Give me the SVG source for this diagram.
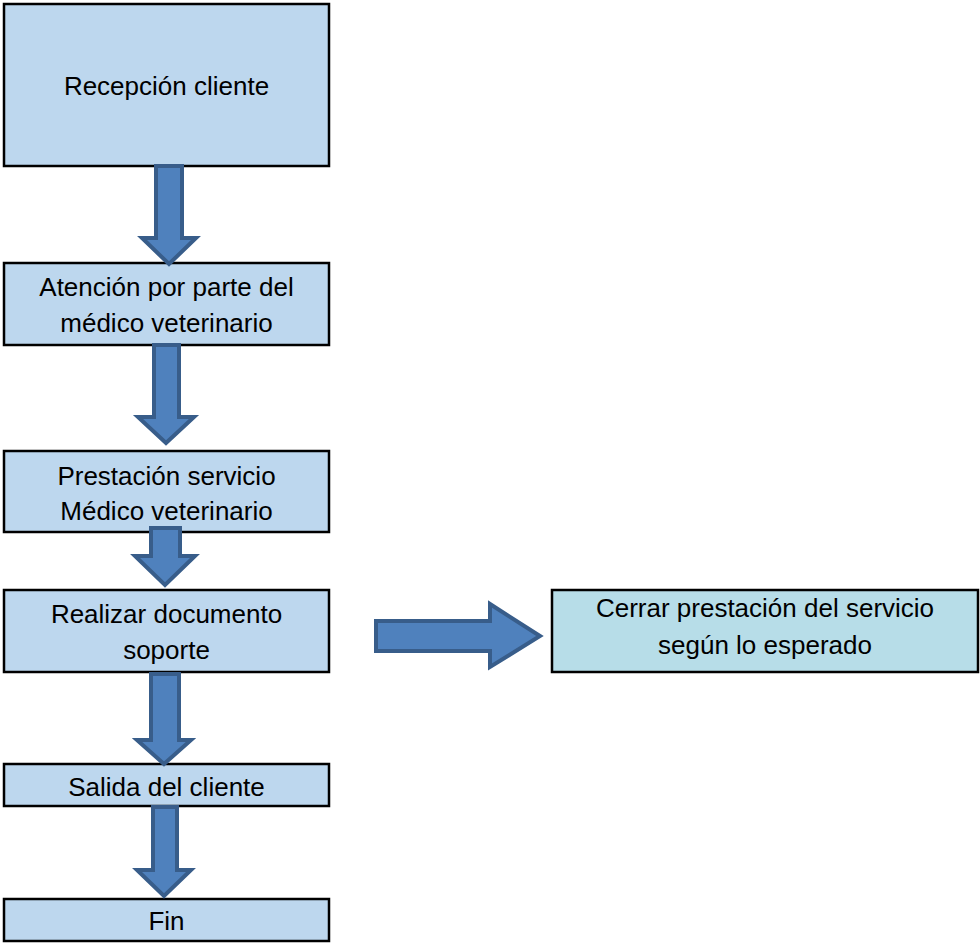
<svg xmlns="http://www.w3.org/2000/svg" width="980" height="943" viewBox="0 0 980 943">
<style>
.box{fill:#BDD7EE;stroke:#000;stroke-width:2.5}
.box2{fill:#B7DDE8;stroke:#000;stroke-width:2.5}
.arr{fill:#4F81BD;stroke:#385D8A;stroke-width:4;stroke-linejoin:miter}
text{font-family:"Liberation Sans",Arial,sans-serif;font-size:26px;fill:#000;text-anchor:middle}
</style>
<rect width="980" height="943" fill="#fff"/>
<g id="n1"><rect class="box" x="4" y="4" width="325" height="162"/><text x="166.5" y="95">Recepción cliente</text></g>
<g id="n2"><rect class="box" x="4" y="263" width="325" height="82"/><text x="166.5" y="296">Atención por parte del</text><text x="166.5" y="332">médico veterinario</text></g>
<g id="n3"><rect class="box" x="4" y="451" width="325" height="81"/><text x="166.5" y="485">Prestación servicio</text><text x="166.5" y="520">Médico veterinario</text></g>
<g id="n4"><rect class="box" x="4" y="590" width="325" height="82"/><text x="166.5" y="623">Realizar documento</text><text x="166.5" y="659">soporte</text></g>
<g id="n5"><rect class="box" x="4" y="764" width="325" height="42"/><text x="166.5" y="796">Salida del cliente</text></g>
<g id="n6"><rect class="box" x="4" y="899" width="325" height="42"/><text x="166.5" y="930">Fin</text></g>
<g id="n7"><rect class="box2" x="552" y="590" width="426" height="82"/><text x="765" y="617">Cerrar prestación del servicio</text><text x="765" y="654">según lo esperado</text></g>
<g id="connectors">
<polygon class="arr" points="156,166 182,166 182,238 196,238 169,264 142,238 156,238"/>
<polygon class="arr" points="154,345 179,345 179,417 194,417 166,443 138,417 154,417"/>
<polygon class="arr" points="151,528 180,528 180,556 195,556 165,585 135,556 151,556"/>
<polygon class="arr" points="151,674 179,674 179,740 191,740 164,764 137,740 151,740"/>
<polygon class="arr" points="153,807 177,807 177,870 191,870 164,896 137,870 153,870"/>
<polygon class="arr" points="376,621 490,621 490,604 540,636 490,667 490,651 376,651"/>
</g>
</svg>
